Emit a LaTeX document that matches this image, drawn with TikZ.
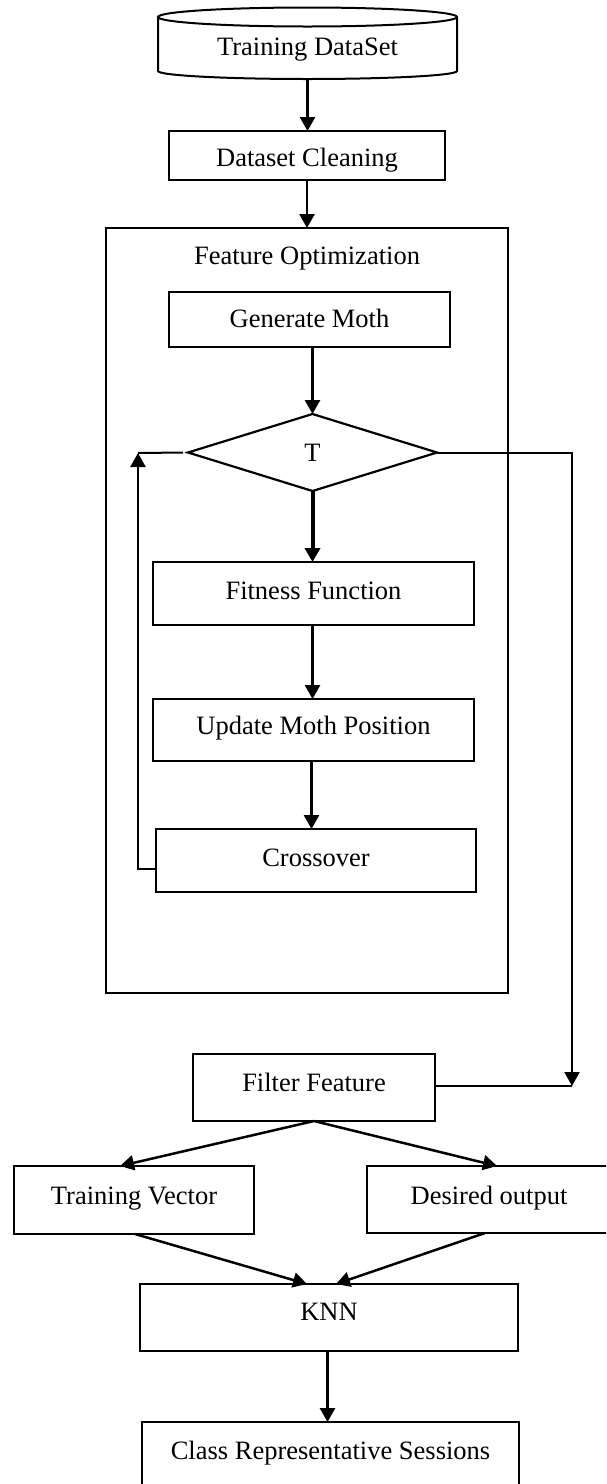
\documentclass[tikz,border=0pt]{standalone}
\usepackage{fontspec}
\setmainfont{Liberation Serif}
\usetikzlibrary{arrows.meta,shapes.geometric,calc}

\tikzset{
  txt/.style={font=\fontsize{26.5}{30}\selectfont},
  stepbox/.style={draw, line width=2pt, rectangle, inner sep=0pt, outer sep=0pt, txt,
                  text height=18pt, text depth=6pt},
  flow/.style={line width=2.7pt, -{Triangle[length=14pt,width=15pt]}},
  wire/.style={line width=2.4pt},
}

\begin{document}
\begin{tikzpicture}[x=1pt,y=1pt]
\useasboundingbox (0,0) rectangle (606,-1484);
\clip (0,0) rectangle (606,-1484);

% data store (cylinder)
\node[txt, minimum width=299pt, minimum height=72pt, inner sep=0pt, outer sep=0pt,
      text height=26pt, text depth=2pt] (data) at (307.5,-43) {Training DataSet};
\draw[line width=2pt]
  ([yshift=-10pt]data.north west) -- ([yshift=8pt]data.south west)
  arc[start angle=180,end angle=360,x radius=149.5,y radius=8]
  -- ([yshift=-10pt]data.north east)
  arc[start angle=0,end angle=360,x radius=149.5,y radius=9.5];

\node[stepbox, minimum width=276pt, minimum height=49pt, text height=24pt, text depth=3pt] (clean) at (307,-155.5) {Dataset Cleaning};

% feature optimization frame
\node[draw, line width=2pt, inner sep=0pt, outer sep=0pt, minimum width=402pt, minimum height=765pt] (feat) at (307,-610.5) {};
\node[txt] (feattitle) at (307,-259) {Feature Optimization};

\node[stepbox, minimum width=281pt, minimum height=55pt, text depth=1.6pt] (gen) at (309.5,-319.5) {Generate Moth};
\node[draw, diamond, line width=2.2pt, inner sep=0pt, outer sep=0pt, minimum width=249pt, minimum height=77pt, txt] (T) at (312.5,-452.5) {T};
\node[stepbox, minimum width=321pt, minimum height=63pt, text depth=5.6pt] (fit) at (313.5,-593.5) {Fitness Function};
\node[stepbox, minimum width=321pt, minimum height=62pt, text depth=8.6pt] (upd) at (313.5,-730) {Update Moth Position};
\node[stepbox, minimum width=320pt, minimum height=63pt, text depth=6.4pt] (cross) at (316,-860.5) {Crossover};

\node[stepbox, minimum width=242pt, minimum height=67pt, text depth=9.6pt] (filt) at (314,-1087.5) {Filter Feature};
\node[stepbox, minimum width=240pt, minimum height=68pt, text depth=9.4pt] (tv) at (134,-1200) {Training Vector};
\node[stepbox, minimum width=244pt, minimum height=67pt, text depth=8.4pt] (do) at (489,-1199.5) {Desired output};
\node[stepbox, minimum width=378pt, minimum height=67pt, text depth=11.6pt] (knn) at (329,-1317.5) {KNN};
\node[stepbox, minimum width=377pt, minimum height=68pt, text depth=10.6pt] (cls) at (330.5,-1456) {Class Representative Sessions};

% connectors
\draw[flow] (data.south) -- (data.south |- clean.north);
\draw[flow] (clean.south) -- (clean.south |- feat.north);
\draw[flow] (T.north |- gen.south) -- (T.north);
\draw[flow, line width=4pt] (T.south) -- (T.south |- fit.north);
\draw[flow] (fit.south -| T.south) -- (T.south |- upd.north);
\draw[flow] ([xshift=-1pt]upd.south -| T.south) -- ([xshift=-1pt]T.south |- cross.north);

% loop back to the test
\coordinate (loopx) at (138,-453);
\draw[flow, line width=2.5pt] ([yshift=-8.5pt]cross.west) -| (loopx);
\draw[wire, line width=2pt] (loopx) -- ([xshift=-5pt]T.west);

% exit branch to the filter
\coordinate (rc) at (572,-1086);
\draw[flow, line width=2pt] (T.east) -| (rc);
\draw[wire, line width=2pt] (rc) -- (rc -| filt.east);

\draw[flow, line width=2.5pt] (filt.south) -- ([xshift=-14pt]tv.north);
\draw[flow, line width=2.5pt] (filt.south) -- ([xshift=8pt]do.north);
\draw[flow, line width=2.5pt] ([xshift=1pt]tv.south) -- ([xshift=-22pt]knn.north);
\draw[flow, line width=2.5pt] ([xshift=-4pt]do.south) -- ([xshift=7pt]knn.north);
\draw[flow] ([xshift=-1.5pt]knn.south) -- ([xshift=-1.5pt]knn.south |- cls.north);
\end{tikzpicture}
\end{document}
